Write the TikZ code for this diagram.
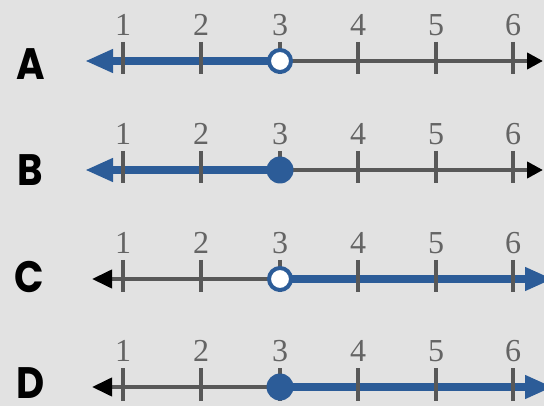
\documentclass[tikz,border=0pt]{standalone}
\usepackage{fontspec}
\setmainfont{Liberation Serif}
\newfontfamily\labfont{Poppins}
\usetikzlibrary{arrows.meta}
\definecolor{bgc}{RGB}{226,226,226}
\definecolor{nblue}{RGB}{44,92,152}
\definecolor{ngray}{RGB}{88,88,88}
\definecolor{numgray}{RGB}{100,100,100}
\tikzset{
  axisline/.style={draw=ngray, line width=4pt},
  blackleft/.style={{Triangle[length=20pt,width=18pt,color=black]}-},
  blackright/.style={-{Triangle[length=16pt,width=16pt,color=black]}},
  rayline/.style={draw=nblue, line width=8pt},
  tickmark/.style={draw=ngray, line width=4.5pt},
  numlab/.style={font=\fontsize{32}{32}\selectfont, text=numgray, anchor=base, inner sep=0pt},
  rowlab/.style={font=\labfont\bfseries\fontsize{44}{44}\selectfont, text=black, inner sep=0pt, xscale=0.88},
  opendot/.style={circle, draw=nblue, line width=4pt, fill=white, minimum size=22pt, inner sep=0pt},
  closeddot/.style={circle, fill=nblue, minimum size=27pt, inner sep=0pt},
}
\begin{document}
\begin{tikzpicture}[x=1pt,y=-1pt]
\fill[bgc] (0,0) rectangle (544,406);
\useasboundingbox (0,0) rectangle (544,406);
% row positions
\foreach \r/\yy in {A/61,B/170,C/279,D/387}{
  \coordinate (\r-L) at (90,\yy);
  \coordinate (\r-R) at (543,\yy);
  \foreach \k/\xx in {1/123,2/201,3/280,4/358,5/436,6/513}{
    \coordinate (\r-\k) at (\xx,\yy);
  }
}
% labels
\node[rowlab] (labA) at (31,64) {A};
\node[rowlab] (labB) at (30,170) {B};
\node[rowlab] (labC) at (29,277) {C};
\node[rowlab] (labD) at (31,383) {D};
% rows A, B: left ray
\foreach \r in {A,B}{
  \draw[axisline, blackright] (\r-3) -- (\r-R);
  \draw[rayline, {Triangle[length=28pt,width=22pt]}-] ([xshift=-5pt]\r-L) -- (\r-3);
}
% rows C, D: right ray
\foreach \r in {C,D}{
  \draw[axisline, blackleft] ([xshift=2pt]\r-L) -- (\r-3);
  \draw[rayline, -{Triangle[length=28pt,width=22pt]}] (\r-3) -- ([xshift=10pt]\r-R);
}
% ticks and numbers
\foreach \r in {A,B,C,D}{
  \foreach \k in {1,...,6}{
    \draw[tickmark] ([yshift=19pt]\r-\k) -- ([yshift=-13.5pt]\r-\k);
    \node[numlab] (num\r\k) at ([yshift=25.5pt]\r-\k) {\k};
  }
}
% dots
\node[opendot] (dotA) at (A-3) {};
\node[closeddot] (dotB) at (B-3) {};
\node[opendot] (dotC) at (C-3) {};
\node[closeddot] (dotD) at (D-3) {};
\end{tikzpicture}
\end{document}
